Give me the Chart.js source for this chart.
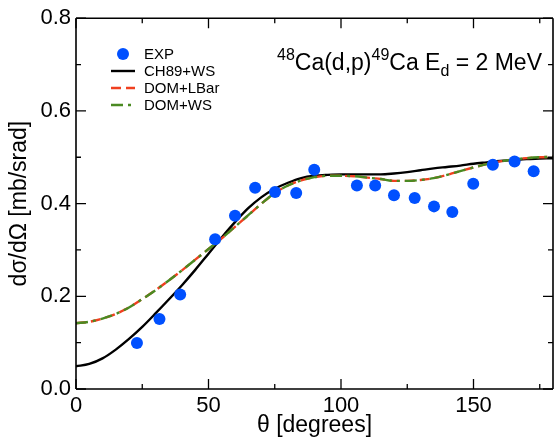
<!DOCTYPE html>
<html>
<head>
<meta charset="utf-8">
<script src="https://cdn.jsdelivr.net/npm/chart.js@4/dist/chart.umd.min.js"></script>
<style>
html,body{margin:0;padding:0;background:#fff;}
#wrap{width:559px;height:440px;position:relative;}
</style>
</head>
<body>
<div id="wrap"><canvas id="xs"></canvas></div>
<script>
/* ===== data ===== */

// measured points (EXP)
const expTheta=[23,31.5,39.3,52.5,60,67.6,75.1,83.1,89.9,106,112.9,120,127.8,135.1,142,149.9,157.3,165.5,172.7];
const expXs=[0.099,0.151,0.204,0.323,0.374,0.434,0.425,0.423,0.473,0.439,0.439,0.418,0.412,0.394,0.382,0.443,0.484,0.491,0.470];

// calculated curves, theta every 5 degrees
const curveTheta=[0,5,10,15,20,25,30,35,40,45,50,55,60,65,70,75,80,85,90,95,100,105,110,115,120,125,130,135,140,145,150,155,160,165,170,175,180];
const ch89ws=[0.049,0.054,0.066,0.085,0.108,0.134,0.163,0.193,0.224,0.257,0.292,0.327,0.360,0.390,0.414,0.432,0.445,0.455,0.460,0.462,0.463,0.463,0.463,0.463,0.465,0.468,0.472,0.476,0.479,0.482,0.486,0.489,0.492,0.494,0.496,0.497,0.498];
const domLBar=[0.142,0.145,0.152,0.162,0.176,0.194,0.213,0.234,0.256,0.279,0.302,0.325,0.350,0.375,0.400,0.423,0.439,0.450,0.457,0.460,0.460,0.459,0.456,0.453,0.449,0.449,0.451,0.455,0.462,0.470,0.478,0.485,0.491,0.495,0.498,0.500,0.501];
const domWS=[0.142,0.145,0.152,0.162,0.176,0.194,0.213,0.234,0.256,0.279,0.302,0.325,0.350,0.375,0.400,0.423,0.439,0.450,0.457,0.460,0.460,0.459,0.456,0.453,0.449,0.449,0.451,0.455,0.462,0.470,0.478,0.485,0.491,0.495,0.498,0.500,0.501];

// axes
const xMajor=[0,50,100,150];
const xMinor=[25,75,125,175];
const yMajor=[0,0.2,0.4,0.6,0.8];
const yMinor=[0.1,0.3,0.5,0.7];

const FONT="'Liberation Sans', Arial, Helvetica, sans-serif";

function pts(xs,ys){return xs.map((x,i)=>({x:x,y:ys[i]}));}

/* ===== frame with inward ticks on all four sides ===== */
const framePlugin={
id:"frame",
afterDatasetsDraw(chart){
const c=chart.ctx,a=chart.chartArea,sx=chart.scales.x,sy=chart.scales.y;
c.save();
c.strokeStyle="#000";
c.lineWidth=1.6;
c.beginPath();
c.moveTo(a.left,a.top);c.lineTo(a.right,a.top);
c.moveTo(a.left,a.bottom);c.lineTo(a.right,a.bottom);
c.moveTo(a.left,a.top);c.lineTo(a.left,a.bottom);
c.moveTo(a.right,a.top);c.lineTo(a.right,a.bottom);
c.stroke();
c.lineWidth=1.3;
c.beginPath();
const tick=(vals,len)=>{
vals.forEach(v=>{
const px=sx.getPixelForValue(v);
c.moveTo(px,a.bottom);c.lineTo(px,a.bottom-len);
c.moveTo(px,a.top);c.lineTo(px,a.top+len);
});
};
const ticky=(vals,len)=>{
vals.forEach(v=>{
const py=sy.getPixelForValue(v);
c.moveTo(a.left,py);c.lineTo(a.left+len,py);
c.moveTo(a.right,py);c.lineTo(a.right-len,py);
});
};
tick(xMajor,10);tick(xMinor,5);
ticky(yMajor,10);ticky(yMinor,5);
c.stroke();
c.restore();
}
};

/* ===== reaction label and legend ===== */
const labelPlugin={
id:"label",
afterDraw(chart){
const c=chart.ctx;
c.save();
c.fillStyle="#000";
c.textBaseline="alphabetic";
let x=277,base=70;
const parts=[["48",16,-10],["Ca(d,p)",23,0],["49",16,-10],["Ca E",23,0],["d",16,6],[" = 2 MeV",23,0]];
parts.forEach(p=>{
c.font=p[1]+"px "+FONT;
c.fillText(p[0],x,base+p[2]);
x+=c.measureText(p[0]).width;
});

// legend
const ds=chart.data.datasets;
c.font="15px "+FONT;
c.textBaseline="middle";
const rows=[54,71,88,105];
ds.forEach((d,i)=>{
const y=rows[i];
if(d.showLine===false){
c.fillStyle=d.backgroundColor;
c.beginPath();c.arc(123,y,6,0,Math.PI*2);c.fill();
}else{
c.strokeStyle=d.borderColor;
c.lineWidth=d.borderWidth;
c.setLineDash(d.borderDash||[]);
c.beginPath();c.moveTo(111,y);c.lineTo(135,y);c.stroke();
c.setLineDash([]);
}
c.fillStyle="#000";
c.fillText(d.label,144,y+1);
});
c.restore();
}
};

new Chart(document.getElementById("xs"),{
type:"scatter",
data:{
datasets:[
{label:"EXP",data:pts(expTheta,expXs),showLine:false,pointRadius:6,pointHoverRadius:6,
backgroundColor:"#0050ff",borderColor:"#0050ff",borderWidth:0,order:0},
{label:"CH89+WS",data:pts(curveTheta,ch89ws),showLine:true,pointRadius:0,borderColor:"#000",
borderWidth:2.4,cubicInterpolationMode:"monotone",order:3},
{label:"DOM+LBar",data:pts(curveTheta,domLBar),showLine:true,pointRadius:0,borderColor:"#f04020",
borderWidth:2.4,borderDash:[10,5],cubicInterpolationMode:"monotone",order:2},
{label:"DOM+WS",data:pts(curveTheta,domWS),showLine:true,pointRadius:0,borderColor:"#4a8a22",
borderWidth:2.4,borderDash:[12,5,3,5],cubicInterpolationMode:"monotone",order:1}
]
},
options:{
responsive:true,
maintainAspectRatio:false,
animation:false,
layout:{padding:{top:16,right:0,left:0,bottom:0}},
plugins:{legend:{display:false},tooltip:{enabled:false}},
scales:{
x:{
type:"linear",min:0,max:180,
afterBuildTicks:s=>{s.ticks=xMajor.map(v=>({value:v}));},
afterFit:s=>{s.height=51;},
grid:{display:false,drawTicks:false},
border:{display:false},
ticks:{color:"#000",font:{family:FONT,size:22},padding:4,maxRotation:0},
title:{display:true,text:"θ [degrees]",color:"#000",font:{family:FONT,size:23,lineHeight:1.2},padding:{top:0,bottom:1}}
},
y:{
min:0,max:0.8,
afterBuildTicks:s=>{s.ticks=yMajor.map(v=>({value:v}));},
afterFit:s=>{s.width=76;},
grid:{display:false,drawTicks:false},
border:{display:false},
ticks:{color:"#000",font:{family:FONT,size:22},padding:5,callback:v=>v.toFixed(1)},
title:{display:true,text:"dσ/dΩ [mb/srad]",color:"#000",font:{family:FONT,size:23,lineHeight:1.2},padding:{top:6,bottom:0}}
}
}
},
plugins:[framePlugin,labelPlugin]
});
</script>
</body>
</html>
